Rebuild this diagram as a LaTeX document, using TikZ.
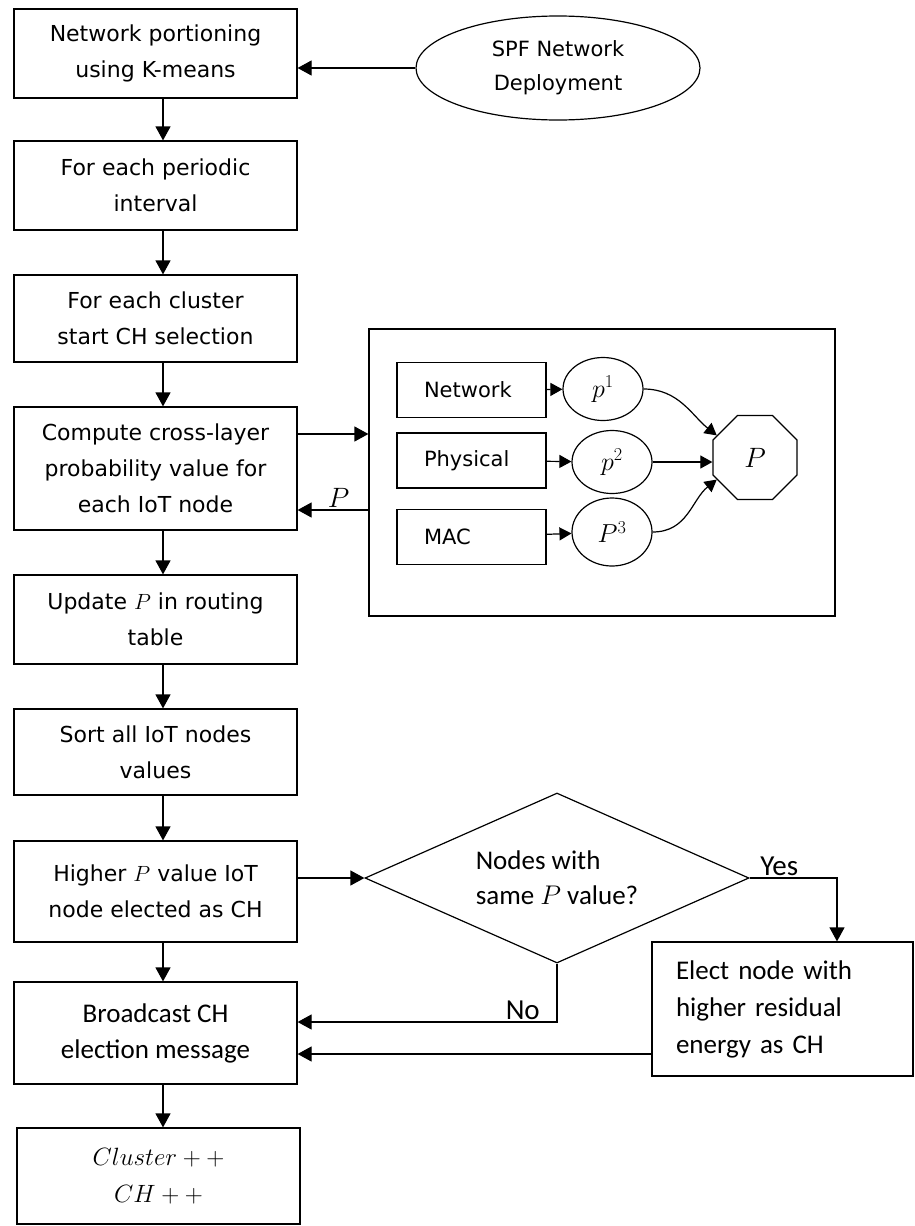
\RequirePackage{fix-cm}
\documentclass[tikz,border=0pt]{standalone}
\usepackage{fontspec}
\newfontfamily\boxfont{DejaVu Sans}
\newfontfamily\calfont{Carlito}
\usetikzlibrary{shapes.geometric, arrows.meta}

\begin{document}
\begin{tikzpicture}[
        ->,
        >={Triangle[length=14pt,width=15pt]},
        line width=1.2pt,
        box/.style={draw, rectangle, minimum width=283pt, align=center, inner sep=0pt,
                font=\boxfont\fontsize{22}{36}\selectfont},
        spf/.style={draw, ellipse, minimum width=284pt, minimum height=104pt, inner sep=0pt,
                align=center, font=\boxfont\fontsize{21}{34}\selectfont},
        layer/.style={draw, rectangle, minimum height=55pt, text width=95pt, inner xsep=27pt,
                align=left, font=\boxfont\fontsize{21}{25}\selectfont},
        prob/.style={draw, ellipse, minimum width=80pt, minimum height=63pt, inner sep=0pt,
                font=\fontsize{26}{28}\selectfont},
        decision/.style={draw, diamond, aspect=2.26, minimum width=384pt, minimum height=170pt,
                inner sep=0pt, align=left, font=\calfont\fontsize{27}{35}\selectfont},
        tag/.style={inner sep=2pt, font=\calfont\fontsize{29}{30}\selectfont},
        small tip/.style={>={Triangle[length=12pt,width=13pt]}},
        yscale=-1,
        x=1pt,
        y=1pt
    ]
    \useasboundingbox (0,0) rectangle (914,1226);

    \coordinate (spine) at (163,0);
    \coordinate (feed) at (0,434);
    \coordinate (back) at (0,510);
    \coordinate (nojoin) at (0,1022);
    \coordinate (ejoin) at (0,1054);

    \node[box, minimum height=89pt] (partition) at (155.5,53.5) {Network portioning\\using K-means};
    \node[spf] (deploy) at (558,68) {SPF Network\\Deployment};
    \node[box, minimum height=89pt] (interval) at (155.5,185.5) {For each periodic\\interval};
    \node[box, minimum height=87pt] (cluster) at (155.5,318.5) {For each cluster\\start CH selection};
    \node[box, minimum height=123pt] (compute) at (155.5,468.5) {Compute cross-layer\\probability value for\\each IoT node};
    \node[box, minimum height=89pt] (update) at (155.5,619.5) {Update $P$ in routing\\table};
    \node[box, minimum height=86pt] (sort) at (155.5,752) {Sort all IoT nodes\\values};
    \node[box, minimum height=101pt] (higher) at (155.5,891.5) {Higher $P$ value IoT\\node elected as CH};
    \node[box, minimum height=102pt, font=\calfont\fontsize{27}{36}\selectfont] (broadcast) at (155.5,1033) {Broadcast CH\\election message};
    \node[box, minimum height=96pt, font=\fontsize{25}{37}\selectfont] (count) at (158.5,1176) {$Cluster + +$\\$CH + +$};

    \node[draw, rectangle, minimum width=466pt, minimum height=287pt, inner sep=0pt] (layers) at (602,472.5) {};
    \node[layer] (network) at (471.5,390) {Network};
    \node[layer] (physical) at (471.5,460.5) {Physical};
    \node[layer] (mac) at (471.5,537) {MAC};
    \node[prob] (p1) at (603,389) {$p^{\scriptstyle 1}$};
    \node[prob] (p2) at (612,462) {$p^{\scriptstyle 2}$};
    \node[prob, minimum height=68pt] (p3) at (612,532) {$P^{\scriptstyle 3}$};
    \node[draw, regular polygon, regular polygon sides=8, minimum size=91pt, inner sep=0pt,
        font=\fontsize{28}{30}\selectfont] (total) at (755,457.5) {$P$};

    \node[decision] (decide) at (557,878) {Nodes with\\same $P$ value?};
    \node[box, minimum width=261pt, minimum height=134pt, text width=213pt, inner xsep=24pt, align=left,
        font=\calfont\fontsize{27}{37}\selectfont] (elect) at (782.5,1009) {Elect node with\\higher residual\\energy as CH};

    \draw (deploy.west) -- (deploy.west -| partition.east);
    \draw (partition.south -| spine) -- (interval.north -| spine);
    \draw (interval.south -| spine) -- (cluster.north -| spine);
    \draw (cluster.south -| spine) -- (compute.north -| spine);
    \draw (compute.south -| spine) -- (update.north -| spine);
    \draw (update.south -| spine) -- (sort.north -| spine);
    \draw (sort.south -| spine) -- (higher.north -| spine);
    \draw (higher.south -| spine) -- (broadcast.north -| spine);
    \draw (broadcast.south -| spine) -- (count.north -| spine);

    \draw (compute.east |- feed) -- (layers.west |- feed);
    \draw (layers.west |- back) -- node[pos=0.42, above, inner sep=2pt, font=\fontsize{28}{30}\selectfont] (plabel) {$P$} (compute.east |- back);

    \draw[small tip] (network) -- (p1);
    \draw[small tip] (physical) -- (p2);
    \draw[small tip] (mac) -- (p3);
    \draw[small tip] (p1.east) .. controls +(35,0) and +(-25,-20) .. (total.150);
    \draw[small tip] (p2.east) -- (p2.east -| total.west);
    \draw[small tip] (p3.east) .. controls +(35,0) and +(-25,20) .. (total.210);

    \draw (decide.west -| higher.east) -- (decide.west);
    \draw (decide.east) -| node[tag, pos=0.17, above] (yes) {Yes} ([xshift=54.5pt]elect.north);
    \draw (decide.south) |- node[tag, pos=0.566, above] (no) {No} (broadcast.east |- nojoin);
    \draw (elect.west |- ejoin) -- (broadcast.east |- ejoin);
\end{tikzpicture}
\end{document}
